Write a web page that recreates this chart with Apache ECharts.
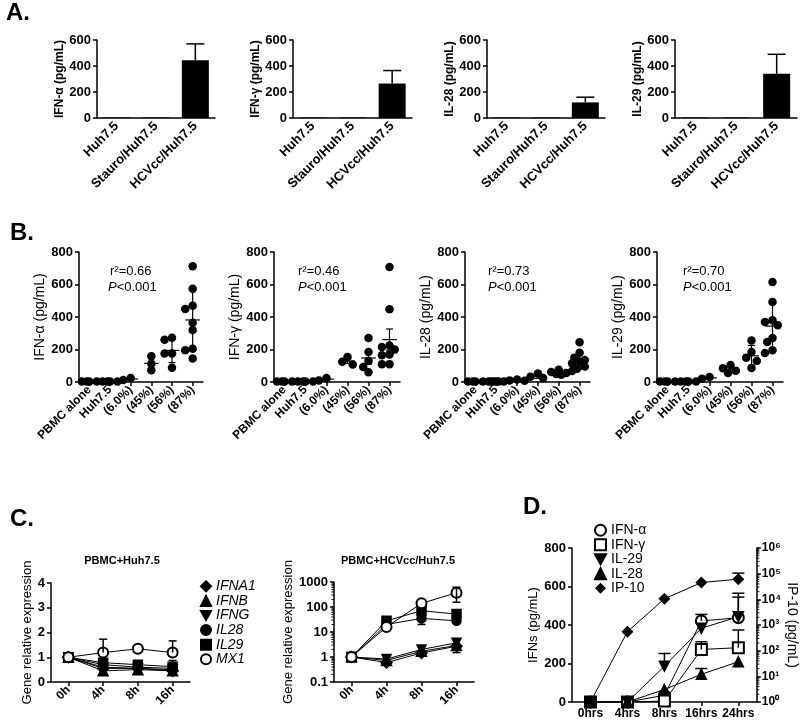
<!DOCTYPE html>
<html><head><meta charset="utf-8">
<script src="https://cdn.jsdelivr.net/npm/echarts@6/dist/echarts.min.js"></script>
<style>html,body{margin:0;padding:0;background:#fff}#c{width:800px;height:723px}</style>
</head><body><div id="c"></div>
<script>
const FONT = '"Liberation Sans", Arial, Helvetica, sans-serif';
const BLK = '#000';
const INV = 'path://M0,0L10,0L5,9Z';

// ---------- Panel A ----------
const aCats = ['Huh7.5', 'Stauro/Huh7.5', 'HCVcc/Huh7.5'];
const aIFNa = [4, 4, 445];  const aIFNaErr = [null, null, 570];
const aIFNg = [4, 4, 265];  const aIFNgErr = [null, null, 365];
const aIL28 = [4, 4, 120];  const aIL28Err = [null, null, 160];
const aIL29 = [4, 4, 340];  const aIL29Err = [null, null, 490];
const aYNames = ['IFN-α (pg/mL)', 'IFN-γ (pg/mL)', 'IL-28 (pg/mL)', 'IL-29 (pg/mL)'];

// ---------- Panel B ----------
const bCats = ['PBMC alone', 'Huh7.5', '(6.0%)', '(45%)', '(56%)', '(87%)'];
const bIFNa = [[3,3,3,3],[3,3,3,3],[12,25],[158,113,72],[260,273,175,175,88],[712,574,470,450,365,320,205,195,145]];
const bIFNg = [[3,3,3,3],[3,3,3,3],[10,25],[107,154,125],[271,185,130,92,60],[708,447,225,215,200,170,165,110,110]];
const bIL28 = [[3,3,3,3],[3,3,3,3,3,3],[10,15,8],[52,33,25],[75,62,55,50,45],[244,180,150,135,125,115,95,82,68]];
const bIL29 = [[3,3,3,3],[3,3,3,3],[20,31],[105,85,70,55],[256,185,150,129,86],[615,492,380,369,350,271,246,195,178]];
const bErrType = ['sd', 'sem', 'sd', 'sd'];
const bYNames = ['IFN-α (pg/mL)', 'IFN-γ (pg/mL)', 'IL-28 (pg/mL)', 'IL-29 (pg/mL)'];
const bR2 = ['r²=0.66', 'r²=0.46', 'r²=0.73', 'r²=0.70'];
const bP = ['<0.001', '<0.001', '<0.001', '<0.001'];

// ---------- Panel C ----------
const cTimes = ['0h', '4h', '8h', '16h'];
const cNames = ['IFNA1', 'IFNB', 'IFNG', 'IL28', 'IL29', 'MX1'];
const c1IFNA1 = [1, 0.55, 0.55, 0.45];
const c1IFNB  = [1, 0.45, 0.50, 0.45];
const c1IFNG  = [1, 0.60, 0.55, 0.50];
const c1IL28  = [1, 0.70, 0.60, 0.55];
const c1IL29  = [1, 0.78, 0.70, 0.62];
const c1MX1   = [1, 1.19, 1.34, 1.19];
const c1Err = [['MX1', 1, 1.19, 1.73], ['MX1', 3, 1.19, 1.66], ['IL29', 3, 0.62, 0.87]];
const c2IFNA1 = [1, 0.60, 1.45, 2.7];
const c2IFNB  = [1, 0.73, 1.70, 2.9];
const c2IFNG  = [1, 0.83, 2.00, 3.7];
const c2IL28  = [1, 20, 35, 28];
const c2IL29  = [1, 28, 71, 52];
const c2MX1   = [1, 16, 140, 370];
const c2Err = [['MX1', 3, 155, 620], ['IL28', 2, 20, 71], ['IFNA1', 3, 1.5, 5]];
const c1Ticks = [0, 1, 2, 3, 4];

// ---------- Panel D ----------
const dTimes = ['0hrs', '4hrs', '8hrs', '16hrs', '24hrs'];
const dNames = ['IFN-α', 'IFN-γ', 'IL-29', 'IL-28', 'IP-10'];
const dIFNa = [0, 0, 35, 421, 438];
const dIFNg = [0, 0, 5, 273, 282];
const dIL29 = [0, 0, 186, 383, 443];
const dIL28 = [0, 0, 65, 144, 209];
const dIP10 = [1, 550, 10500, 45000, 61000];
const dErr = [['IFN-α', 3, 421, 455], ['IFN-α', 4, 438, 545], ['IFN-γ', 3, 273, 313], ['IFN-γ', 4, 282, 374],
              ['IL-29', 2, 186, 252], ['IL-29', 4, 443, 565], ['IL-28', 3, 144, 174]];
const dIP10Err = [[4, 61000, 105000]];

// ---------- helpers ----------
const SUP = {'-1':'⁻¹', 0:'⁰', 1:'¹', 2:'²', 3:'³', 4:'⁴', 5:'⁵', 6:'⁶'};
const axisLine = {show: true, onZero: false, lineStyle: {color: BLK, width: 1.5}};
const axisTick = {show: true, length: 4, lineStyle: {color: BLK, width: 1.5}};
function lbl(extra) {
  return Object.assign({color: BLK, fontFamily: FONT, fontWeight: 'bold', fontSize: 13, margin: 6}, extra || {});
}
function errSeries(xi, yi, data, cap) {
  return {
    type: 'custom', xAxisIndex: xi, yAxisIndex: yi, data: data, encode: {x: 0, y: [1, 2]},
    clip: false, silent: true, z: 4,
    renderItem: function (params, api) {
      const x = api.value(0), a = api.value(1), b = api.value(2), both = api.value(3);
      const p1 = api.coord([x, a]), p2 = api.coord([x, b]);
      const st = {stroke: BLK, lineWidth: 1.5};
      const ch = [
        {type: 'line', shape: {x1: p1[0], y1: p1[1], x2: p2[0], y2: p2[1]}, style: st},
        {type: 'line', shape: {x1: p2[0] - cap / 2, y1: p2[1], x2: p2[0] + cap / 2, y2: p2[1]}, style: st}
      ];
      if (both) ch.push({type: 'line', shape: {x1: p1[0] - cap / 2, y1: p1[1], x2: p1[0] + cap / 2, y2: p1[1]}, style: st});
      return {type: 'group', children: ch};
    }
  };
}
function minorTickSeries(xi, yi, values, side) {
  return {
    type: 'custom', xAxisIndex: xi, yAxisIndex: yi, data: values.map(v => [0, v]),
    encode: {x: 0, y: 1}, clip: false, silent: true,
    renderItem: function (params, api) {
      const cs = params.coordSys;
      const p = api.coord([0, api.value(1)]);
      const x0 = side === 'right' ? cs.x + cs.width : cs.x;
      const dx = side === 'right' ? 2.5 : -2.5;
      return {type: 'line', shape: {x1: x0, y1: p[1], x2: x0 + dx, y2: p[1]}, style: {stroke: BLK, lineWidth: 1}};
    }
  };
}
// beeswarm-like horizontal spreading of points within a group (layout only)
const B_PX_PER_CAT = 20.8, B_PX_PER_UNIT = 130 / 800;
function swarm(vals) {
  const order = vals.map((v, k) => k).sort((a, b) => vals[b] - vals[a]);
  const cands = [0, -0.25, 0.25, -0.12, 0.12, -0.36, 0.36];
  const placed = [], offs = new Array(vals.length);
  for (const k of order) {
    let best = 0, bestD = -1;
    for (const o of cands) {
      let minD = Infinity;
      for (const p of placed) {
        const dx = (p.o - o) * B_PX_PER_CAT, dy = (p.v - vals[k]) * B_PX_PER_UNIT;
        minD = Math.min(minD, Math.hypot(dx, dy));
      }
      if (minD >= 6.5) { best = o; bestD = Infinity; break; }
      if (minD > bestD) { bestD = minD; best = o; }
    }
    offs[k] = best; placed.push({o: best, v: vals[k]});
  }
  return offs;
}
function groupStats(g, type) {
  const n = g.length, m = g.reduce((s, v) => s + v, 0) / n;
  const sd = n > 1 ? Math.sqrt(g.reduce((s, v) => s + (v - m) * (v - m), 0) / (n - 1)) : 0;
  const e = type === 'sem' ? sd / Math.sqrt(n) : sd;
  return [m, Math.max(0, m - e), m + e];
}

const grids = [], xAxes = [], yAxes = [], series = [], graphics = [];

// ---------- build A ----------
const aGrid = [[97, 118], [293, 119], [487, 118], [675, 122]];
const aVals = [aIFNa, aIFNg, aIL28, aIL29];
const aErrs = [aIFNaErr, aIFNgErr, aIL28Err, aIL29Err];
aGrid.forEach((g, j) => {
  const gi = grids.length; grids.push({left: g[0], top: 40, width: g[1], height: 78});
  const xi = xAxes.length, yi = yAxes.length;
  xAxes.push({type: 'category', gridIndex: gi, data: aCats, axisLine: axisLine, axisTick: {show: false},
    axisLabel: lbl({rotate: 45, interval: 0, fontSize: 13})});
  yAxes.push({type: 'value', gridIndex: gi, min: 0, max: 600, interval: 200, name: aYNames[j],
    nameLocation: 'middle', nameGap: 30, nameRotate: 90,
    nameTextStyle: {color: BLK, fontFamily: FONT, fontWeight: 'bold', fontSize: 12},
    axisLine: axisLine, axisTick: axisTick, splitLine: {show: false}, axisLabel: lbl()});
  series.push({type: 'bar', xAxisIndex: xi, yAxisIndex: yi, data: aVals[j], barWidth: 27,
    itemStyle: {color: BLK}, silent: true});
  const ed = [];
  aVals[j].forEach((v, i) => { if (aErrs[j][i] != null) ed.push([i, v, aErrs[j][i], 0]); });
  series.push(errSeries(xi, yi, ed, 18));
});

// ---------- build B ----------
const bGrid = [[79, 124], [274, 126], [465, 125], [657, 126]];
const bVals = [bIFNa, bIFNg, bIL28, bIL29];
const bTextX = [[110, 108], [298, 298], [488, 488], [683, 683]];
const bNameGap = [24, 26, 24, 26];
bGrid.forEach((g, j) => {
  const gi = grids.length; grids.push({left: g[0], top: 252, width: g[1], height: 130});
  xAxes.push({type: 'category', gridIndex: gi, data: bCats, axisLine: axisLine,
    axisTick: {show: true, alignWithLabel: true, length: 4, lineStyle: {color: BLK, width: 1.5}},
    axisLabel: lbl({rotate: 45, interval: 0, fontSize: 12})});
  const xv = xAxes.length;
  xAxes.push({type: 'value', gridIndex: gi, min: -0.5, max: 5.5, show: false, position: 'top'});
  const yi = yAxes.length;
  yAxes.push({type: 'value', gridIndex: gi, min: 0, max: 800, interval: 200, name: bYNames[j],
    nameLocation: 'middle', nameGap: bNameGap[j], nameRotate: 90,
    nameTextStyle: {color: BLK, fontFamily: FONT, fontWeight: 'normal', fontSize: 14},
    axisLine: axisLine, axisTick: axisTick, splitLine: {show: false}, axisLabel: lbl({fontSize: 13})});
  const pts = [], stats = [];
  bVals[j].forEach((grp, i) => {
    const offs = swarm(grp);
    grp.forEach((v, k) => pts.push([i + offs[k], v]));
    const s = groupStats(grp, bErrType[j]);
    stats.push([i, s[0], s[1], s[2]]);
  });
  series.push({type: 'scatter', xAxisIndex: xv, yAxisIndex: yi, data: pts, symbolSize: 8.5,
    itemStyle: {color: BLK, opacity: 1}, silent: true, z: 2});
  series.push({
    type: 'custom', xAxisIndex: xv, yAxisIndex: yi, data: stats, encode: {x: 0, y: [1, 2, 3]},
    clip: false, silent: true, z: 3,
    renderItem: function (params, api) {
      const i = api.value(0), m = api.value(1), lo = api.value(2), hi = api.value(3);
      const st = {stroke: BLK, lineWidth: 1.2};
      const a = api.coord([i - 0.35, m]), b = api.coord([i + 0.35, m]);
      const c1 = api.coord([i, lo]), c2 = api.coord([i, hi]);
      const cl = api.coord([i - 0.17, hi]), cr = api.coord([i + 0.17, hi]);
      const dl = api.coord([i - 0.17, lo]), dr = api.coord([i + 0.17, lo]);
      return {type: 'group', children: [
        {type: 'line', shape: {x1: a[0], y1: a[1], x2: b[0], y2: b[1]}, style: st},
        {type: 'line', shape: {x1: c1[0], y1: c1[1], x2: c2[0], y2: c2[1]}, style: st},
        {type: 'line', shape: {x1: cl[0], y1: cl[1], x2: cr[0], y2: cr[1]}, style: st},
        {type: 'line', shape: {x1: dl[0], y1: dl[1], x2: dr[0], y2: dr[1]}, style: st}
      ]};
    }
  });
  graphics.push({type: 'text', left: bTextX[j][0], top: 265,
    style: {text: bR2[j], font: '13px ' + FONT, fill: BLK}});
  graphics.push({type: 'text', left: bTextX[j][1], top: 281,
    style: {text: '{i|P}' + bP[j], font: '13px ' + FONT, fill: BLK,
      rich: {i: {fontStyle: 'italic', fontSize: 13, fontFamily: FONT, fill: BLK}}}});
});

// ---------- build C ----------
const cSymbols = ['diamond', 'triangle', INV, 'circle', 'rect', 'emptyCircle'];
const cSizes = [11, 10, 9, 9, 9, 10];
const c1Vals = [c1IFNA1, c1IFNB, c1IFNG, c1IL28, c1IL29, c1MX1];
const c2Vals = [c2IFNA1, c2IFNB, c2IFNG, c2IL28, c2IL29, c2MX1];
const cGrid = [[51, 583, 139, 99], [334, 582, 140, 100]];
const cMinor = [];
[0.1, 1, 10, 100].forEach(d => { for (let k = 2; k <= 9; k++) cMinor.push(+(k * d).toPrecision(3)); });
cGrid.forEach((g, j) => {
  const gi = grids.length; grids.push({left: g[0], top: g[1], width: g[2], height: g[3]});
  const xi = xAxes.length, yi = yAxes.length;
  xAxes.push({type: 'category', gridIndex: gi, data: cTimes, axisLine: axisLine,
    axisTick: {show: true, alignWithLabel: true, length: 4, lineStyle: {color: BLK, width: 1.5}},
    axisLabel: lbl({rotate: 45, interval: 0, fontSize: 12})});
  const yBase = {gridIndex: gi, name: 'Gene relative expression', nameLocation: 'middle', nameRotate: 90,
    nameTextStyle: {color: BLK, fontFamily: FONT, fontSize: 13}, axisLine: axisLine, axisTick: axisTick,
    splitLine: {show: false}, axisLabel: lbl({fontSize: 13, formatter: v => String(v)})};
  if (j === 0) {
    yAxes.push(Object.assign({type: 'value', min: c1Ticks[0], max: c1Ticks[c1Ticks.length - 1], interval: 1, nameGap: 13}, yBase));
  } else {
    yAxes.push(Object.assign({type: 'log', logBase: 10, min: 0.1, max: 1000, nameGap: 39}, yBase));
  }
  const vals = j === 0 ? c1Vals : c2Vals;
  cNames.forEach((n, s) => {
    series.push({type: 'line', name: n, xAxisIndex: xi, yAxisIndex: yi, data: vals[s],
      symbol: cSymbols[s], symbolSize: cSizes[s], showAllSymbol: true,
      lineStyle: {color: BLK, width: 1}, itemStyle: {color: BLK, borderColor: BLK, borderWidth: 1.5},
      silent: true, z: 2 + (s === 5 ? 1 : 0)});
  });
  const errs = j === 0 ? c1Err : c2Err;
  series.push(errSeries(xi, yi, errs.map(e => [e[1], e[2], e[3], j === 1 ? 1 : 0]), 8));
  if (j === 1) series.push(minorTickSeries(xi, yi, cMinor, 'left'));
});

// ---------- build D ----------
(function () {
  const gi = grids.length; grids.push({left: 572, top: 548, width: 191, height: 154});
  const xi = xAxes.length;
  xAxes.push({type: 'category', gridIndex: gi, data: dTimes, axisLine: axisLine,
    axisTick: {show: true, alignWithLabel: true, length: 4, lineStyle: {color: BLK, width: 1.5}},
    axisLabel: lbl({interval: 0, fontSize: 12, margin: 6})});
  const yl = yAxes.length;
  yAxes.push({type: 'value', gridIndex: gi, min: 0, max: 800, interval: 200, name: 'IFNs (pg/mL)',
    nameLocation: 'middle', nameGap: 21, nameRotate: 90,
    nameTextStyle: {color: BLK, fontFamily: FONT, fontSize: 13},
    axisLine: axisLine, axisTick: axisTick, splitLine: {show: false}, axisLabel: lbl()});
  const yr = yAxes.length;
  yAxes.push({type: 'log', logBase: 10, gridIndex: gi, min: 1, max: 1e6, position: 'right',
    name: 'IP-10 (pg/mL)', nameLocation: 'middle', nameGap: 24, nameRotate: -90,
    nameTextStyle: {color: BLK, fontFamily: FONT, fontSize: 14},
    axisLine: axisLine, axisTick: axisTick, splitLine: {show: false},
    axisLabel: lbl({fontSize: 12, margin: 5, formatter: v => '10' + SUP[Math.round(Math.log10(v))]})});
  const dSym = ['emptyCircle', 'emptyRect', INV, 'triangle', 'diamond'];
  const dSize = [11, 11, 10, 10, 12];
  const dVals = [dIFNa, dIFNg, dIL29, dIL28];
  dVals.forEach((v, s) => {
    series.push({type: 'line', name: dNames[s], xAxisIndex: xi, yAxisIndex: yl, data: v,
      symbol: dSym[s], symbolSize: dSize[s], showAllSymbol: true,
      lineStyle: {color: BLK, width: 1}, itemStyle: {color: BLK, borderColor: BLK, borderWidth: 1.5},
      silent: true, z: 2});
  });
  series.push({type: 'line', name: dNames[4], xAxisIndex: xi, yAxisIndex: yr, data: dIP10,
    symbol: dSym[4], symbolSize: dSize[4], showAllSymbol: true,
    lineStyle: {color: BLK, width: 1}, itemStyle: {color: BLK}, silent: true, z: 2});
  series.push(errSeries(xi, yl, dErr.map(e => [e[1], e[2], e[3], 0]), 12));
  series.push(errSeries(xi, yr, dIP10Err.map(e => [e[0], e[1], e[2], 0]), 12));
  const dMinor = [];
  [1, 10, 100, 1000, 1e4, 1e5].forEach(d => { for (let k = 2; k <= 9; k++) dMinor.push(k * d); });
  series.push(minorTickSeries(xi, yr, dMinor, 'right'));
})();

// ---------- texts ----------
const panelLabels = [['A.', 6, 14], ['B.', 10, 234], ['C.', 10, 520], ['D.', 523, 508]];
panelLabels.forEach(p => graphics.push({type: 'text', left: p[1], top: p[2] - 13,
  style: {text: p[0], font: 'bold 24px ' + FONT, fill: BLK}}));
graphics.push({type: 'text', x: 122, y: 561, style: {text: 'PBMC+Huh7.5', font: 'bold 11px ' + FONT, fill: BLK, textAlign: 'center', textVerticalAlign: 'middle'}});
graphics.push({type: 'text', x: 398, y: 561, style: {text: 'PBMC+HCVcc/Huh7.5', font: 'bold 11px ' + FONT, fill: BLK, textAlign: 'center', textVerticalAlign: 'middle'}});

const option = {
  animation: false,
  backgroundColor: '#fff',
  textStyle: {fontFamily: FONT, color: BLK},
  grid: grids, xAxis: xAxes, yAxis: yAxes, series: series, graphic: graphics,
  legend: [
    {orient: 'vertical', left: 195, top: 574, itemWidth: 10, itemHeight: 10, itemGap: 0, selectedMode: false,
      textStyle: {fontStyle: 'italic', fontSize: 14, lineHeight: 14.6, color: BLK, fontFamily: FONT},
      data: cNames.map((n, s) => ({name: n, icon: cSymbols[s]}))},
    {orient: 'vertical', left: 589, top: 518, itemWidth: 11, itemHeight: 11, itemGap: 0, selectedMode: false,
      textStyle: {fontSize: 14, lineHeight: 14.5, color: BLK, fontFamily: FONT},
      data: dNames.map((n, s) => ({name: n, icon: ['emptyCircle', 'emptyRect', INV, 'triangle', 'diamond'][s]}))}
  ]
};
const chart = echarts.init(document.getElementById('c'));
chart.setOption(option);
</script></body></html>
